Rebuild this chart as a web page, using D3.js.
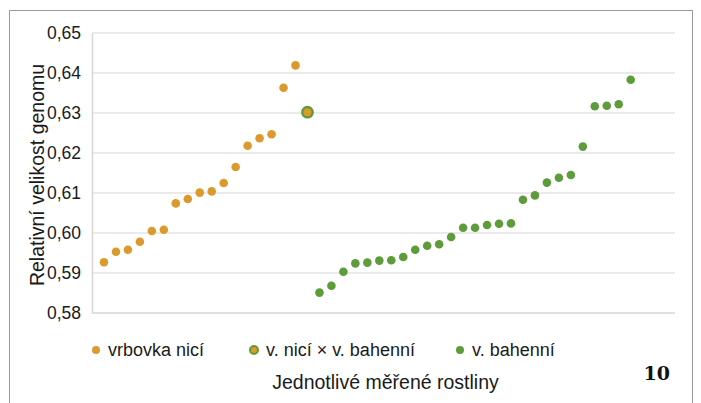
<!DOCTYPE html>
<html>
<head>
<meta charset="utf-8">
<script src="https://cdn.jsdelivr.net/npm/d3@7"></script>
<style>
  html, body { margin: 0; padding: 0; background: #fff; }
  svg { display: block; font-family: "Liberation Sans", Arial, sans-serif; }
</style>
</head>
<body>
<svg id="chart" width="701" height="403"></svg>
<script>
// ---- data ----
const yTicks = [0.58, 0.59, 0.60, 0.61, 0.62, 0.63, 0.64, 0.65];
const seriesNames = ["vrbovka nicí", "v. nicí × v. bahenní", "v. bahenní"];
const vrbovkaNici = [0.5927, 0.5953, 0.5958, 0.5978, 0.6005, 0.6008, 0.6074, 0.6085, 0.6101,
                     0.6104, 0.6125, 0.6165, 0.6218, 0.6237, 0.6247, 0.6363, 0.6419];
const hybrid = [0.6302];
const vBahenni = [0.5851, 0.5868, 0.5903, 0.5924, 0.5926, 0.5931, 0.5932, 0.5940, 0.5958,
                  0.5968, 0.5972, 0.5990, 0.6013, 0.6013, 0.6020, 0.6023, 0.6024, 0.6083,
                  0.6094, 0.6126, 0.6138, 0.6145, 0.6216, 0.6317, 0.6318, 0.6322, 0.6383];
const xTitle = "Jednotlivé měřené rostliny";
const yTitle = "Relativní velikost genomu";
const figNumber = "10";

// ---- build point table (plants numbered in order) ----
const points = [];
let idx = 1;
vrbovkaNici.forEach(v => points.push({ i: idx++, v, s: 0 }));
hybrid.forEach(v => points.push({ i: idx++, v, s: 1 }));
vBahenni.forEach(v => points.push({ i: idx++, v, s: 2 }));

const orange = "#DA9A2C", green = "#5E9B3A";

const svg = d3.select("#chart");
const plot = { left: 92, right: 675, top: 33, bottom: 313 };

// outer frame
svg.append("rect").attr("x", 9.5).attr("y", 10.5).attr("width", 683).attr("height", 400)
  .attr("fill", "none").attr("stroke", "#9a9a9a").attr("stroke-width", 1);

const x = d3.scaleLinear().domain([0, 48.7]).range([plot.left, plot.right]);
const y = d3.scaleLinear().domain([0.58, 0.65]).range([plot.bottom, plot.top]);

// gridlines
svg.append("g").selectAll("line").data(yTicks.filter(t => t > 0.58)).join("line")
  .attr("x1", plot.left).attr("x2", plot.right)
  .attr("y1", d => y(d)).attr("y2", d => y(d))
  .attr("stroke", "#e3e3e3").attr("stroke-width", 1.5);

// y axis
const yAxis = d3.axisLeft(y).tickValues(yTicks).tickSize(0).tickPadding(11)
  .tickFormat(d => d3.format(".2f")(d).replace(".", ","));
const gy = svg.append("g").attr("transform", `translate(${plot.left},0)`).call(yAxis);
gy.select(".domain").attr("stroke", "#d6d6d6").attr("stroke-width", 1.5);
gy.selectAll("text").attr("font-size", 17.5).attr("fill", "#1a1a1a")
  .attr("font-family", "'Liberation Sans', Arial, sans-serif");

// x baseline
svg.append("line").attr("x1", plot.left).attr("x2", plot.right)
  .attr("y1", y(0.58)).attr("y2", y(0.58))
  .attr("stroke", "#d6d6d6").attr("stroke-width", 1.5);

// points
const color = s => s === 2 ? green : orange;
svg.append("g").selectAll("circle").data(points.filter(p => p.s !== 1)).join("circle")
  .attr("cx", d => x(d.i)).attr("cy", d => y(d.v)).attr("r", 4.3)
  .attr("fill", d => color(d.s));
svg.append("g").selectAll("circle").data(points.filter(p => p.s === 1)).join("circle")
  .attr("cx", d => x(d.i)).attr("cy", d => y(d.v)).attr("r", 5.2)
  .attr("fill", orange).attr("stroke", green).attr("stroke-width", 2.4);

// y title
svg.append("text").attr("transform", `translate(44,${(plot.top + plot.bottom) / 2 + 2}) rotate(-90)`)
  .attr("text-anchor", "middle").attr("font-size", 19.5).attr("fill", "#1a1a1a").text(yTitle);

// legend
const legendX = [96, 254, 460];
const lg = svg.append("g");
seriesNames.forEach((name, k) => {
  const c = lg.append("circle").attr("cx", legendX[k]).attr("cy", 350).attr("r", 4);
  if (k === 1) c.attr("fill", orange).attr("stroke", green).attr("stroke-width", 2);
  else c.attr("fill", k === 0 ? orange : green);
  lg.append("text").attr("x", legendX[k] + 12).attr("y", 356).attr("font-size", 18)
    .attr("fill", "#1a1a1a").text(name);
});

// x title
svg.append("text").attr("x", (plot.left + plot.right) / 2 + 2).attr("y", 389)
  .attr("text-anchor", "middle").attr("font-size", 19.5).attr("fill", "#1a1a1a").text(xTitle);

// figure number
svg.append("text").attr("x", 670).attr("y", 380).attr("text-anchor", "end")
  .attr("font-family", "'DejaVu Serif', 'Liberation Serif', serif").attr("font-weight", "bold")
  .attr("font-size", 19).attr("fill", "#111").text(figNumber);
</script>
</body>
</html>
